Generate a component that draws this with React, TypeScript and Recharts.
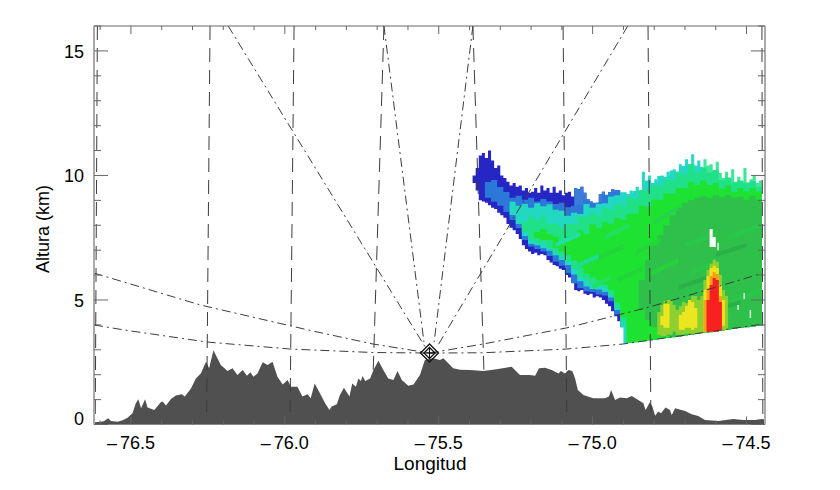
import React from "react";
import { ComposedChart, Area, Line, XAxis, YAxis, ReferenceDot } from "recharts";

const FONT = "'Liberation Sans', Arial, sans-serif";
const xMajor = [-76.5, -76.0, -75.5, -75.0, -74.5];
const xTicks = [-76.6, -76.5, -76.4, -76.3, -76.2, -76.1, -76.0, -75.9, -75.8, -75.7, -75.6, -75.5, -75.4, -75.3, -75.2, -75.1, -75.0, -74.9, -74.8, -74.7, -74.6, -74.5];
const yMajor = [0, 5, 10, 15];
const yTicks = [0, 1, 2, 3, 4, 5, 6, 7, 8, 9, 10, 11, 12, 13, 14, 15, 16];

const terrainLon = [-76.619, -76.597, -76.587, -76.574, -76.565, -76.543, -76.527, -76.511, -76.495, -76.484, -76.476, -76.467, -76.454, -76.446, -76.424, -76.403, -76.397, -76.386, -76.37, -76.354, -76.335, -76.325, -76.305, -76.289, -76.273, -76.256, -76.246, -76.232, -76.208, -76.186, -76.17, -76.154, -76.137, -76.123, -76.112, -76.102, -76.089, -76.072, -76.056, -76.04, -76.024, -76.007, -75.991, -75.98, -75.959, -75.943, -75.926, -75.916, -75.903, -75.886, -75.869, -75.855, -75.848, -75.831, -75.821, -75.808, -75.79, -75.781, -75.769, -75.761, -75.753, -75.747, -75.739, -75.723, -75.712, -75.696, -75.68, -75.664, -75.647, -75.634, -75.62, -75.599, -75.582, -75.561, -75.545, -75.518, -75.496, -75.485, -75.469, -75.453, -75.431, -75.399, -75.355, -75.312, -75.263, -75.236, -75.204, -75.187, -75.174, -75.155, -75.133, -75.111, -75.103, -75.09, -75.079, -75.066, -75.057, -75.048, -75.03, -74.998, -74.96, -74.947, -74.94, -74.927, -74.911, -74.889, -74.873, -74.857, -74.835, -74.828, -74.814, -74.806, -74.797, -74.787, -74.778, -74.763, -74.749, -74.743, -74.732, -74.7, -74.678, -74.657, -74.635, -74.592, -74.543, -74.511, -74.473, -74.451, -74.44];
const terrainAlt = [0.09, 0.11, 0.14, 0.25, 0.14, 0.11, 0.17, 0.27, 0.45, 0.85, 1.01, 0.65, 1.01, 0.68, 0.58, 0.89, 0.92, 0.76, 1.02, 1.16, 1.21, 1.12, 1.45, 1.85, 2.05, 2.52, 2.26, 2.98, 2.39, 2.15, 2.26, 1.99, 2.19, 1.96, 2.1, 1.92, 2.05, 2.5, 2.39, 2.52, 1.92, 1.61, 1.79, 1.52, 1.52, 1.12, 1.21, 1.05, 1.65, 1.25, 0.85, 0.58, 0.72, 0.81, 1.18, 1.48, 1.12, 1.65, 1.52, 1.85, 1.75, 1.95, 1.75, 1.85, 2.19, 2.56, 2.19, 1.85, 1.79, 2.15, 1.79, 1.56, 1.61, 1.99, 2.59, 2.66, 2.59, 2.66, 2.46, 2.26, 2.2, 2.19, 2.15, 2.22, 2.32, 1.99, 1.99, 1.96, 2.26, 2.28, 2.19, 2.05, 2.15, 2.05, 2.19, 2.15, 1.85, 1.39, 1.18, 1.05, 1.05, 1.12, 1.39, 0.98, 1.08, 1.05, 1.14, 1.02, 0.85, 0.58, 0.89, 0.72, 0.35, 0.52, 0.45, 0.68, 0.58, 0.38, 0.65, 0.54, 0.41, 0.34, 0.18, 0.14, 0.22, 0.18, 0.18, 0.22, 0.2];

const echoLon = [-75.39, -75.38, -75.37, -75.36, -75.35, -75.34, -75.33, -75.32, -75.31, -75.3, -75.29, -75.28, -75.27, -75.26, -75.25, -75.24, -75.23, -75.22, -75.21, -75.2, -75.19, -75.18, -75.17, -75.16, -75.15, -75.14, -75.13, -75.12, -75.11, -75.1, -75.09, -75.08, -75.07, -75.06, -75.05, -75.04, -75.03, -75.02, -75.01, -75.0, -74.99, -74.98, -74.97, -74.96, -74.95, -74.94, -74.93, -74.92, -74.91, -74.9, -74.89, -74.88, -74.87, -74.86, -74.85, -74.84, -74.83, -74.82, -74.81, -74.8, -74.79, -74.78, -74.77, -74.76, -74.75, -74.74, -74.73, -74.72, -74.71, -74.7, -74.69, -74.68, -74.67, -74.66, -74.65, -74.64, -74.63, -74.62, -74.61, -74.6, -74.59, -74.58, -74.57, -74.56, -74.55, -74.54, -74.53, -74.52, -74.51, -74.5, -74.49, -74.48, -74.47, -74.46, -74.45];
const echoTop = [10.0, 10.3, 10.8, 10.9, 10.7, 11.0, 10.6, 10.3, 10.4, 10.0, 9.9, 9.75, 9.6, 9.7, 9.55, 9.6, 9.4, 9.5, 9.3, 9.35, 9.5, 9.3, 9.6, 9.4, 9.5, 9.3, 9.55, 9.3, 9.4, 9.2, 9.3, 9.35, 9.15, 9.5, 9.45, 9.55, 9.3, 9.05, 8.95, 8.8, 8.9, 9.25, 9.35, 9.1, 9.2, 9.45, 9.2, 9.3, 9.1, 9.3, 9.25, 9.4, 9.3, 9.55, 9.4, 10.15, 9.8, 10.0, 9.7, 9.85, 9.75, 10.0, 9.85, 10.15, 10.0, 10.25, 10.15, 10.45, 10.3, 10.65, 10.45, 10.85, 10.4, 10.6, 10.35, 10.65, 10.4, 10.45, 10.2, 10.55, 10.1, 9.9, 10.15, 9.85, 10.25, 9.75, 9.95, 9.7, 10.3, 9.7, 9.85, 10.0, 9.7, 9.8, 9.85];
const echoBottom = [9.7, 9.4, 9.0, 8.95, 8.9, 8.8, 8.7, 8.65, 8.5, 8.4, 8.3, 8.05, 7.9, 7.8, 7.65, 7.45, 7.2, 7.05, 6.95, 6.85, 6.9, 6.8, 6.85, 6.8, 6.6, 6.5, 6.4, 6.35, 6.25, 6.2, 6.0, 5.9, 5.7, 5.4, 5.35, 5.4, 5.25, 5.2, 5.25, 5.1, 5.15, 5.1, 5.0, 4.85, 4.75, 4.55, 4.35, 4.15, 3.9, 3.25, 3.27, 3.29, 3.3, 3.32, 3.34, 3.35, 3.37, 3.39, 3.4, 3.42, 3.43, 3.45, 3.47, 3.48, 3.5, 3.52, 3.53, 3.55, 3.57, 3.58, 3.6, 3.62, 3.63, 3.65, 3.67, 3.68, 3.7, 3.72, 3.73, 3.75, 3.77, 3.78, 3.8, 3.82, 3.83, 3.85, 3.87, 3.88, 3.9, 3.92, 3.93, 3.95, 3.97, 3.98, 4.0];

const cellLon = [-75.39, -75.37, -75.35, -75.33, -75.31, -75.29, -75.27, -75.25, -75.23, -75.21, -75.19, -75.17, -75.15, -75.13, -75.11, -75.09, -75.07, -75.05, -75.03, -75.01, -74.99, -74.97, -74.95, -74.93, -74.91, -74.89, -74.87, -74.85, -74.83, -74.81, -74.79, -74.77, -74.75, -74.73, -74.71, -74.69, -74.67, -74.65, -74.63, -74.61, -74.59, -74.57, -74.55, -74.53, -74.51, -74.49, -74.47, -74.45];
const lowBeam = [3.27, 3.3, 3.34, 3.37, 3.4, 3.43, 3.47, 3.5, 3.53, 3.57, 3.6, 3.63, 3.67, 3.7, 3.73, 3.77, 3.8, 3.83, 3.87, 3.9, 3.93, 3.97, 4.0];
const midBlueTop = [9.74, 9.82, 9.54, 9.34, 9.1, 9.18, 9.02, 9.1, 8.95, 9.05, 8.95, 8.85, 8.9, 8.72, 8.78, 8.82, 9.02, 8.9, 8.86, 9.22, 9.34, 9.42, 9.42];
const midBlueBottom = [9.1, 8.94, 8.78, 8.53, 8.21, 7.89, 7.41, 7.15, 7.05, 6.95, 6.77, 6.53, 6.37, 6.07, 5.67, 5.47, 5.35, 5.32, 5.22, 5.18, 4.95, 4.42, 3.39];
const tealTop = [9.58, 9.34, 9.14, 8.94, 8.78, 8.85, 8.7, 8.88, 8.76, 8.84, 8.62, 8.58, 8.38, 8.5, 8.45, 8.85, 8.7, 8.85, 8.88, 9.15, 9.2, 9.32, 9.16, 9.38, 9.36, 9.78, 9.62, 9.98, 9.95, 10.2, 10.15, 10.38, 10.55];
const tealBottom = [9.1, 8.9, 8.7, 8.41, 8.05, 7.57, 7.25, 7.2, 7.08, 6.98, 6.8, 6.6, 6.4, 6.02, 5.75, 5.54, 5.44, 5.42, 5.32, 5.1, 4.6, 3.9, 3.45, 7.01, 7.81, 8.41, 8.61, 8.82, 9.02, 9.22, 9.42, 9.62, 10.02];
const seaTop = [8.13, 8.35, 8.2, 8.35, 8.05, 8.05, 7.9, 8.05, 8.05, 8.35, 8.35, 8.52, 8.38, 8.68, 8.62, 8.85, 8.78, 9.1, 9.06, 9.42, 9.42, 9.62, 9.58, 9.82, 9.82, 10.08, 10.05, 10.45, 10.12, 10.3, 10.12, 10.22, 9.82, 9.92, 9.72, 9.8, 9.72, 9.78, 9.54, 9.66];
const seaBottom = [7.73, 7.41, 7.29, 7.29, 7.09, 6.9, 6.75, 6.55, 6.25, 5.95, 5.8, 5.6, 5.58, 5.5, 5.2, 4.7, 4.1];
const greenTop = [7.73, 7.85, 7.65, 7.55, 7.35, 7.55, 7.5, 7.8, 7.65, 8.05, 7.9, 8.12, 8.06, 8.28, 8.22, 8.45, 8.46, 8.78, 8.74, 9.02, 9.02, 9.28, 9.26, 9.5, 9.5, 9.74, 9.62, 9.8, 9.62, 9.7, 9.46, 9.6, 9.34, 9.5, 9.36, 9.5, 9.36, 9.42];
const greenBottom = [7.49, 7.41, 7.41, 7.09, 6.95, 6.8, 6.58, 6.3, 6.05, 5.9, 5.78, 5.62, 5.4, 4.9, 4.3];
const darkTop = [5.8, 6.6, 7.2, 7.6, 8.0, 8.4, 8.7, 8.9, 9.0, 9.1, 9.16, 9.1, 9.2, 9.12, 9.2, 9.1, 9.14, 9.02, 9.18, 9.02, 9.1];
const darkBottom = [4.6, 4.2, 3.9, 3.7, 3.55];

const streakLon = [[-74.92, -74.84], [-74.82, -74.72], [-74.86, -74.78], [-74.98, -74.9], [-74.7, -74.6], [-74.56, -74.45], [-74.68, -74.6], [-74.55, -74.45], [-74.62, -74.52], [-74.72, -74.62], [-74.6, -74.5], [-75.12, -75.04], [-75.06, -74.98], [-74.96, -74.88], [-75.0, -74.94], [-74.8, -74.72]];
const streakTop = [[5.9, 6.35], [6.1, 6.7], [7.0, 7.5], [6.8, 7.25], [7.3, 7.7], [7.6, 8.1], [6.2, 6.6], [5.0, 5.5], [4.6, 5.0], [5.6, 6.0], [6.9, 7.3], [7.3, 7.75], [6.4, 6.85], [7.6, 8.1], [5.6, 6.0], [8.2, 8.8]];
const streakBottom = [[5.7, 6.15], [5.9, 6.5], [6.8, 7.3], [6.6, 7.05], [7.12, 7.52], [7.42, 7.92], [6.02, 6.42], [4.82, 5.32], [4.42, 4.82], [5.42, 5.82], [6.72, 7.12], [7.12, 7.57], [6.22, 6.67], [7.42, 7.92], [5.42, 5.82], [8.02, 8.62]];
const streakColor = ["#22d63a", "#24d23c", "#22d63a", "#22d63a", "#2ac84a", "#2ac84a", "#2ac84a", "#2ac84a", "#2bb049", "#2bb049", "#2bb049", "#20e0a8", "#20dc90", "#20e060", "#20e060", "#26d24a"];

const haloLon = [-74.79, -74.78, -74.77, -74.76, -74.75, -74.74, -74.73, -74.72, -74.71, -74.7, -74.69, -74.68, -74.67, -74.66, -74.65, -74.64, -74.63, -74.62, -74.61, -74.6, -74.59, -74.58, -74.57, -74.56];
const haloTop = [4.52, 4.8, 4.96, 5.0, 5.0, 4.8, 4.6, 4.76, 4.92, 4.88, 5.0, 5.16, 5.16, 5.0, 5.16, 5.8, 6.2, 6.45, 6.61, 6.53, 6.0, 5.4, 5.16, 4.8];
const haloBottom = [3.6, 3.55, 3.55, 3.6, 3.6, 3.72, 3.6, 3.6, 3.6, 3.64, 3.64, 3.64, 3.64, 3.68, 3.68, 3.68, 3.72, 3.72, 3.72, 3.72, 3.76, 3.76, 3.8, 3.88];
const lump1Lon = [-74.78, -74.77, -74.76, -74.75];
const lump1Top = [4.36, 4.84, 4.84, 4.76];
const lump1Bottom = [4.0, 3.88, 3.88, 4.0];
const lump2Lon = [-74.72, -74.71, -74.7, -74.69, -74.68, -74.67, -74.66];
const lump2Top = [4.4, 4.52, 4.76, 5.0, 4.92, 4.68, 4.68];
const lump2Bottom = [3.8, 3.8, 3.88, 3.88, 3.8, 3.88, 3.88];
const lump3Lon = [-74.64, -74.63, -74.62, -74.61, -74.6, -74.59, -74.58, -74.57];
const lump3Top = [5.4, 5.96, 6.28, 6.37, 6.28, 5.6, 5.0, 5.0];
const lump3Bottom = [3.72, 3.72, 3.72, 3.72, 3.72, 3.8, 3.96, 3.96];
const orangeLon = [-74.64, -74.63, -74.62, -74.61, -74.6, -74.59, -74.58];
const orangeTop = [5.0, 5.48, 5.96, 6.12, 6.04, 5.16, 5.16];
const orangeBottom = [3.72, 3.72, 3.72, 3.72, 3.72, 3.8, 3.8];
const redLon = [-74.63, -74.62, -74.61, -74.6, -74.59, -74.58];
const redTop = [5.0, 5.6, 5.88, 5.8, 4.92, 4.92];
const redBottom = [3.72, 3.72, 3.72, 3.72, 3.8, 3.8];
const gapLon = [-74.62, -74.61, -74.6];
const gapTop = [7.85, 7.53, 7.53];
const gapBottom = [7.13, 7.13, 7.13];
const sliverLon = [[-74.51, -74.505], [-74.53, -74.525], [-74.49, -74.485], [-74.595, -74.59]];
const sliverTop = [[5.28, 5.28], [4.8, 4.8], [4.6, 4.6], [7.3, 7.3]];
const sliverBottom = [[5.04, 5.04], [4.6, 4.6], [4.28, 4.28], [7.0, 7.0]];

const radarLon = -75.53;
const radarAlt = 2.87;

const beamDashDot: number[][][] = [
  [[-76.62, -76.525, -76.252, -75.983, -75.713, -75.53], [4.0, 3.8, 3.31, 3.03, 2.89, 2.87]],
  [[-76.62, -76.275, -75.908, -75.713, -75.53], [6.08, 4.8, 3.75, 3.23, 2.87]],
  [[-75.53, -75.356, -75.084, -74.902, -74.447], [2.87, 2.88, 3.03, 3.23, 4.03]],
  [[-75.53, -75.356, -75.084, -74.814, -74.447], [2.87, 3.23, 3.88, 4.72, 6.08]],
  [[-76.184, -75.544], [16, 3.11]],
  [[-75.678, -75.548], [16, 3.31]],
  [[-75.389, -75.515], [16, 3.31]],
  [[-74.886, -75.502], [16, 3.19]],
];
const beamDashed: number[][][] = [
  [[-76.609, -76.616], [16, 0.18]],
  [[-76.243, -76.254], [16, 0.5]],
  [[-75.97, -75.983], [16, 0.5]],
  [[-75.678, -75.713], [16, 2.11]],
  [[-75.389, -75.353], [16, 2.11]],
  [[-75.096, -75.084], [16, 0.5]],
  [[-74.82, -74.811], [16, 0.5]],
  [[-74.45, -74.447], [16, 0.18]],
];

const points = (lon: number[], alt: number[]) => lon.map((v, i) => ({ lon: v, alt: alt[i] }));
const band = (lon: number[], top: number[], bottom: number[]) =>
  lon.map((v, i) => ({ lon: v, range: [bottom[i], top[i]] }));

const baseLayers: [any[], string][] = [
  [band(echoLon.slice(0, 50), echoTop.slice(0, 50), echoBottom.slice(0, 50)), "#2626c4"],
  [band(echoLon.slice(33, 50), echoTop.slice(33, 50), echoTop.slice(33, 50).map(() => 8.5)), "#3a7cd6"],
  [band(echoLon.slice(49, 76), echoTop.slice(49, 76), echoBottom.slice(49, 76)), "#28d8c4"],
  [band(echoLon.slice(75), echoTop.slice(75), echoBottom.slice(75)), "#3ce898"],
  [band(cellLon.slice(2, 25), midBlueTop, midBlueBottom), "#2c78d8"],
  [band(cellLon.slice(6, 36), tealTop.slice(3), tealBottom.slice(3)), "#22d8c0"],
  [band(cellLon.slice(8), seaTop, [...seaBottom, ...lowBeam]), "#20e088"],
  [band(cellLon.slice(10), greenTop, [...greenBottom, ...lowBeam]), "#1ee232"],
  [band(cellLon.slice(27), darkTop, [...darkBottom, ...lowBeam.slice(7)]), "#2ec04a"],
];
const hotLayers: [any[], string][] = [
  [band(haloLon, haloTop, haloBottom), "#8ed030"],
  [band(lump1Lon, lump1Top, lump1Bottom), "#ece620"],
  [band(lump2Lon, lump2Top, lump2Bottom), "#ece620"],
  [band(lump3Lon, lump3Top, lump3Bottom), "#f2e020"],
  [band(orangeLon, orangeTop, orangeBottom), "#f8a014"],
  [band(redLon, redTop, redBottom), "#f82020"],
  [band(gapLon, gapTop, gapBottom), "#ffffff"],
];

const BottomTick = ({ x, y, payload }: any) => {
  const major = xMajor.includes(payload.value);
  return (
    <g>
      <line x1={x} x2={x} y1={y} y2={y - (major ? 8 : 4)} stroke="#666" />
      {major && (
        <text x={x} y={y + 24} textAnchor="middle" fontFamily={FONT} fontSize={18} fill="#000">
          <tspan>{"\u2013"}</tspan>
          <tspan dx={3}>{Math.abs(payload.value).toFixed(1)}</tspan>
        </text>
      )}
    </g>
  );
};
const TopTick = ({ x, y, payload }: any) => (
  <line x1={x} x2={x} y1={y} y2={y + (xMajor.includes(payload.value) ? 8 : 4)} stroke="#666" />
);
const LeftTick = ({ x, y, payload }: any) => {
  const major = yMajor.includes(payload.value);
  return (
    <g>
      <line x1={x} x2={x + (major ? 14 : 7)} y1={y} y2={y} stroke="#666" />
      {major && (
        <text x={x - 10} y={y + (payload.value === 0 ? 0 : 7)} textAnchor="end" fontFamily={FONT} fontSize={18} fill="#000">
          {payload.value}
        </text>
      )}
    </g>
  );
};
const RightTick = ({ x, y, payload }: any) => (
  <line x1={x} x2={x - (yMajor.includes(payload.value) ? 14 : 7)} y1={y} y2={y} stroke="#666" />
);

const RadarMark = ({ cx, cy }: any) => (
  <g fill="none" stroke="#111" strokeWidth={1.3}>
    <path d={`M${cx - 9} ${cy}L${cx} ${cy - 9}L${cx + 9} ${cy}L${cx} ${cy + 9}Z`} />
    <path d={`M${cx - 5.5} ${cy}L${cx} ${cy - 5.5}L${cx + 5.5} ${cy}L${cx} ${cy + 5.5}Z`} />
    <path d={`M${cx - 6} ${cy}H${cx + 6}M${cx} ${cy - 6}V${cy + 6}`} strokeWidth={1} />
  </g>
);

const flat = { stroke: "none", fillOpacity: 1, dot: false, activeDot: false, isAnimationActive: false } as const;

export default function App() {
  return (
    <div style={{ position: "absolute", left: 0, top: 0, width: 840, height: 490, background: "#fff" }}>
      <ComposedChart width={840} height={490} margin={{ top: 25, right: 74, bottom: 64.5, left: 93 }}>
        <XAxis dataKey="lon" type="number" domain={[-76.62, -74.44]} allowDataOverflow ticks={xTicks} interval={0} height={1} tickSize={0} tickMargin={0} tickLine={false} axisLine={{ stroke: "#888" }} tick={<BottomTick />} />
        <XAxis xAxisId="top" orientation="top" dataKey="lon" type="number" domain={[-76.62, -74.44]} allowDataOverflow ticks={xTicks} interval={0} height={1} tickSize={0} tickMargin={0} tickLine={false} axisLine={{ stroke: "#666" }} tick={<TopTick />} />
        <YAxis type="number" domain={[0, 16]} allowDataOverflow ticks={yTicks} interval={0} width={1} tickSize={0} tickMargin={0} tickLine={false} axisLine={{ stroke: "#aaa", strokeWidth: 2 }} tick={<LeftTick />} />
        <YAxis yAxisId="right" orientation="right" type="number" domain={[0, 16]} allowDataOverflow ticks={yTicks} interval={0} width={1} tickSize={0} tickMargin={0} tickLine={false} axisLine={{ stroke: "#aaa", strokeWidth: 2 }} tick={<RightTick />} />
        <Area data={points(terrainLon, terrainAlt)} dataKey="alt" type="linear" fill="#505050" {...flat} />
        {baseLayers.map(([rows, color], i) => (
          <Area key={i} data={rows} dataKey="range" type="stepAfter" fill={color} {...flat} />
        ))}
        {streakLon.map((lon, i) => (
          <Area key={`s${i}`} data={band(lon, streakTop[i], streakBottom[i])} dataKey="range" type="linear" fill={streakColor[i]} {...flat} />
        ))}
        {hotLayers.map(([rows, color], i) => (
          <Area key={`h${i}`} data={rows} dataKey="range" type="stepAfter" fill={color} {...flat} />
        ))}
        {sliverLon.map((lon, i) => (
          <Area key={`w${i}`} data={band(lon, sliverTop[i], sliverBottom[i])} dataKey="range" type="linear" fill="#d8f0d8" {...flat} />
        ))}
        {beamDashDot.map(([lon, alt], i) => (
          <Line key={`dd${i}`} data={points(lon, alt)} dataKey="alt" type="linear" stroke="#3c3c3c" strokeWidth={1} strokeDasharray="9 4 2 4" dot={false} activeDot={false} isAnimationActive={false} />
        ))}
        {beamDashed.map(([lon, alt], i) => (
          <Line key={`d${i}`} data={points(lon, alt)} dataKey="alt" type="linear" stroke="#3c3c3c" strokeWidth={1} strokeDasharray="14 8" dot={false} activeDot={false} isAnimationActive={false} />
        ))}
        <ReferenceDot x={radarLon} y={radarAlt} r={8} ifOverflow="visible" shape={<RadarMark />} />
        <text x={430} y={470} textAnchor="middle" fontFamily={FONT} fontSize={19} fill="#000">Longitud</text>
        <text x={49} y={229} textAnchor="middle" fontFamily={FONT} fontSize={18} fill="#000" transform="rotate(-90 49 229)">Altura (km)</text>
      </ComposedChart>
    </div>
  );
}
